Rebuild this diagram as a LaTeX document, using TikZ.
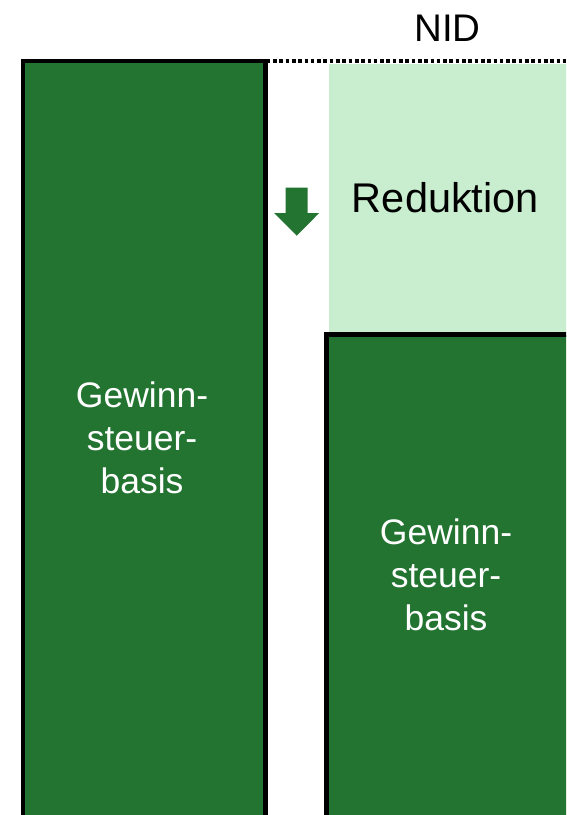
\documentclass[tikz,border=0pt]{standalone}
\usepackage{fontspec}
\setmainfont{Liberation Sans}
\definecolor{darkgreen}{RGB}{35,116,49}
\definecolor{lightgreen}{RGB}{200,238,207}
\begin{document}
\begin{tikzpicture}[x=1pt,y=-1pt,
  bar/.style={fill=darkgreen,draw=black,line width=4.6pt},
  lbl/.style={inner sep=0pt,align=center,text=white,font=\fontsize{35.5}{43}\selectfont},
  big/.style={inner sep=0pt,text=black}]
\useasboundingbox (0,0) rectangle (566,815);
\clip (0,0) rectangle (566,815);
% light green reduction box
\fill[lightgreen] (329,63.5) rectangle (600,332);
% bars
\draw[bar] (23,61) rectangle (265.5,840);
\draw[bar] (326.5,334.5) rectangle (620,840);
% dotted NID line
\coordinate (d0) at (268,61);
\coordinate (d1) at (566,61);
\draw[line width=3.8pt,dash pattern=on 3.6pt off 2.7pt,dash phase=-5pt] (d0) -- (d1);
% arrow
\fill[darkgreen] (285.7,187.7) -- (307.7,187.7) -- (307.7,213) -- (319.2,213)
  -- (296.7,235.7) -- (274.2,213) -- (285.7,213) -- cycle;
% texts
\node[big,anchor=base,font=\fontsize{38.5}{46}\selectfont] (nid) at (447.4,41.7) {NID};
\node[big,anchor=base,font=\fontsize{41.5}{50}\selectfont] (red) at (445.4,212) {Reduktion};
\node[lbl,anchor=base] (lt) at (142,493) {Gewinn-\\steuer-\\basis};
\node[lbl,anchor=base] (rt) at (446,630.7) {Gewinn-\\steuer-\\basis};
\end{tikzpicture}
\end{document}
